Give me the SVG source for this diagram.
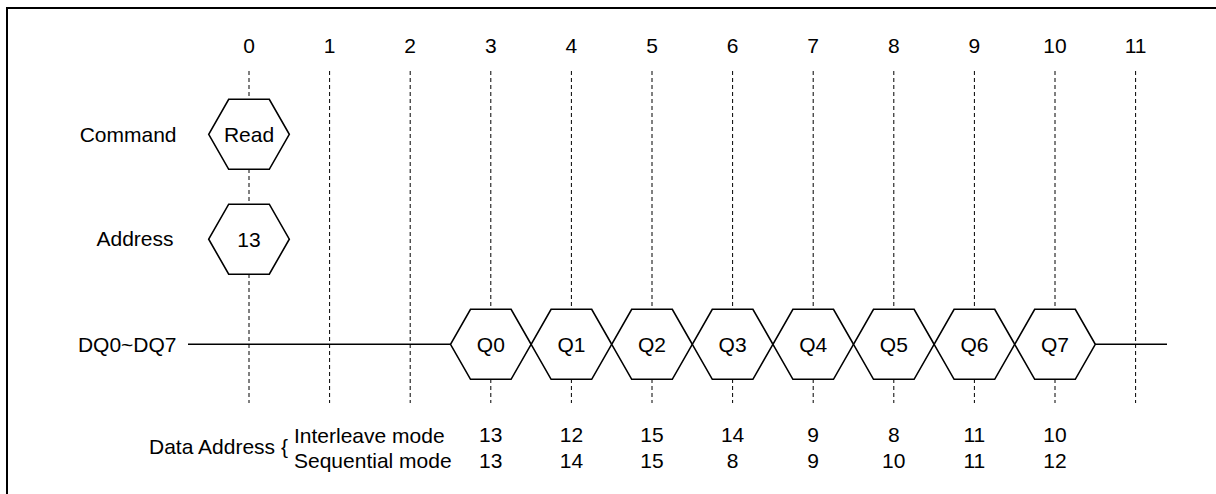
<svg xmlns="http://www.w3.org/2000/svg" width="1216" height="494" viewBox="0 0 1216 494">
<style>
text{font-family:"Liberation Sans",Arial,Helvetica,sans-serif;font-size:21px;fill:#000}
.c{text-anchor:middle}
.e{text-anchor:end}
.grid{stroke:#000;stroke-width:1;stroke-dasharray:4 3;fill:none}
.hex{fill:#fff;stroke:#000;stroke-width:1.6;stroke-linejoin:miter}
.wire{stroke:#000;stroke-width:1.6;fill:none}
</style>
<defs>
<path id="hx" d="M-40.3 0 L-20.3 -35 L20.3 -35 L40.3 0 L20.3 35 L-20.3 35 Z"/>
</defs>
<rect x="7" y="8" width="1230" height="510" fill="#fff" stroke="#000" stroke-width="2"/>
<g id="ticks">
<text class="c" x="249" y="53">0</text>
<text class="c" x="329.6" y="53">1</text>
<text class="c" x="410.2" y="53">2</text>
<text class="c" x="490.8" y="53">3</text>
<text class="c" x="571.4" y="53">4</text>
<text class="c" x="652" y="53">5</text>
<text class="c" x="732.6" y="53">6</text>
<text class="c" x="813.2" y="53">7</text>
<text class="c" x="893.8" y="53">8</text>
<text class="c" x="974.4" y="53">9</text>
<text class="c" x="1055" y="53">10</text>
<text class="c" x="1135.6" y="53">11</text>
</g>
<g id="connectors">
<line class="grid" x1="249" y1="71" x2="249" y2="403"/>
<line class="grid" x1="329.6" y1="71" x2="329.6" y2="403"/>
<line class="grid" x1="410.2" y1="71" x2="410.2" y2="403"/>
<line class="grid" x1="490.8" y1="71" x2="490.8" y2="403"/>
<line class="grid" x1="571.4" y1="71" x2="571.4" y2="403"/>
<line class="grid" x1="652" y1="71" x2="652" y2="403"/>
<line class="grid" x1="732.6" y1="71" x2="732.6" y2="403"/>
<line class="grid" x1="813.2" y1="71" x2="813.2" y2="403"/>
<line class="grid" x1="893.8" y1="71" x2="893.8" y2="403"/>
<line class="grid" x1="974.4" y1="71" x2="974.4" y2="403"/>
<line class="grid" x1="1055" y1="71" x2="1055" y2="403"/>
<line class="grid" x1="1135.6" y1="71" x2="1135.6" y2="403"/>
<line class="wire" x1="188" y1="344.3" x2="450.5" y2="344.3"/>
<line class="wire" x1="1095.3" y1="344.3" x2="1167" y2="344.3"/>
</g>
<g id="labels">
<text class="e" x="176.5" y="141.7">Command</text>
<text class="e" x="173.5" y="245.7">Address</text>
<text class="e" x="176.5" y="351.5">DQ0~DQ7</text>
</g>
<g id="cmd-read" transform="translate(249,134.3)">
<use href="#hx" class="hex"/>
<text class="c" x="0" y="7.4">Read</text>
</g>
<g id="addr-13" transform="translate(249,239.2)">
<use href="#hx" class="hex"/>
<text class="c" x="0" y="7.4">13</text>
</g>
<g id="q0" transform="translate(490.8,344.3)"><use href="#hx" class="hex"/><text class="c" y="7.4">Q0</text></g>
<g id="q1" transform="translate(571.4,344.3)"><use href="#hx" class="hex"/><text class="c" y="7.4">Q1</text></g>
<g id="q2" transform="translate(652,344.3)"><use href="#hx" class="hex"/><text class="c" y="7.4">Q2</text></g>
<g id="q3" transform="translate(732.6,344.3)"><use href="#hx" class="hex"/><text class="c" y="7.4">Q3</text></g>
<g id="q4" transform="translate(813.2,344.3)"><use href="#hx" class="hex"/><text class="c" y="7.4">Q4</text></g>
<g id="q5" transform="translate(893.8,344.3)"><use href="#hx" class="hex"/><text class="c" y="7.4">Q5</text></g>
<g id="q6" transform="translate(974.4,344.3)"><use href="#hx" class="hex"/><text class="c" y="7.4">Q6</text></g>
<g id="q7" transform="translate(1055,344.3)"><use href="#hx" class="hex"/><text class="c" y="7.4">Q7</text></g>
<g id="data-address">
<text x="149" y="454">Data Address {</text>
<text x="294" y="442.5">Interleave mode</text>
<text x="294" y="467.5">Sequential mode</text>
<text class="c" x="490.8" y="441.5">13</text>
<text class="c" x="571.4" y="441.5">12</text>
<text class="c" x="652" y="441.5">15</text>
<text class="c" x="732.6" y="441.5">14</text>
<text class="c" x="813.2" y="441.5">9</text>
<text class="c" x="893.8" y="441.5">8</text>
<text class="c" x="974.4" y="441.5">11</text>
<text class="c" x="1055" y="441.5">10</text>
<text class="c" x="490.8" y="468">13</text>
<text class="c" x="571.4" y="468">14</text>
<text class="c" x="652" y="468">15</text>
<text class="c" x="732.6" y="468">8</text>
<text class="c" x="813.2" y="468">9</text>
<text class="c" x="893.8" y="468">10</text>
<text class="c" x="974.4" y="468">11</text>
<text class="c" x="1055" y="468">12</text>
</g>
</svg>
